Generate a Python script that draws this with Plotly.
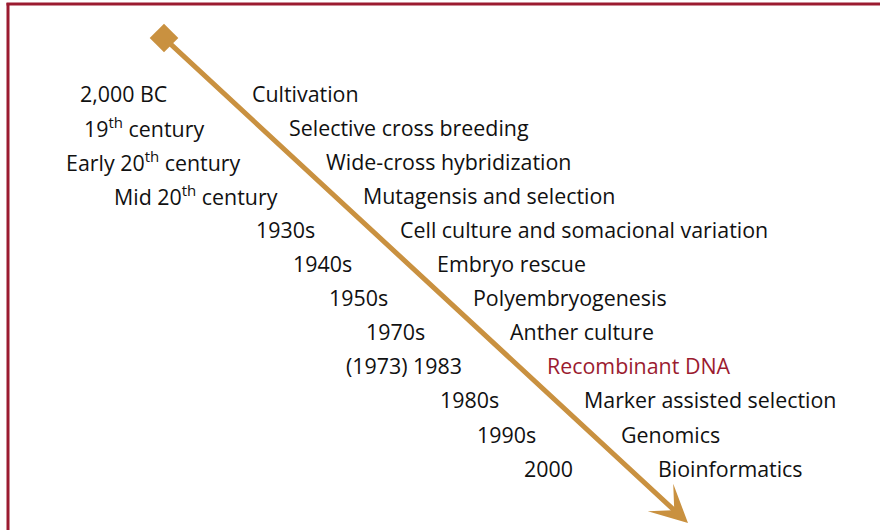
import plotly.graph_objects as go

periods = ["2,000 BC", "19<sup>th</sup> century", "Early 20<sup>th</sup> century",
           "Mid 20<sup>th</sup> century", "1930s", "1940s", "1950s", "1970s",
           "(1973) 1983", "1980s", "1990s", "2000"]
methods = ["Cultivation", "Selective cross breeding", "Wide-cross hybridization",
           "Mutagensis and selection", "Cell culture and somacional variation",
           "Embryo rescue", "Polyembryogenesis", "Anther culture",
           "Recombinant DNA", "Marker assisted selection", "Genomics",
           "Bioinformatics"]
highlight = ["Recombinant DNA"]

GOLD = "#c99140"
RED = "#9b1b30"
FONT = "Open Sans"

# timeline arrow, drawn in pixel-like axis units
start = (164, 38)
end = (688, 523)
row0, step = 93, 34.1

fig = go.Figure()
fig.add_trace(go.Scatter(
    x=[start[0]], y=[start[1]], mode="markers",
    marker=dict(symbol="diamond", size=22, color=GOLD, line=dict(width=0)),
    hoverinfo="skip", showlegend=False,
))
fig.add_annotation(x=end[0], y=end[1], ax=start[0], ay=start[1],
                   xref="x", yref="y", axref="x", ayref="y", text="",
                   showarrow=True, arrowhead=3, arrowsize=1.25, arrowwidth=5,
                   arrowcolor=GOLD, standoff=0)

slope = (end[0] - start[0]) / (end[1] - start[1])
for i, (p, m) in enumerate(zip(periods, methods)):
    y = row0 + i * step
    xa = start[0] + (y - start[1]) * slope
    fig.add_annotation(x=xa - 54, y=y, text=p, showarrow=False,
                       xanchor="right", yanchor="middle",
                       font=dict(family=FONT, size=21.4, color="#111111"))
    fig.add_annotation(x=xa + 27, y=y, text=m, showarrow=False,
                       xanchor="left", yanchor="middle",
                       font=dict(family=FONT, size=21.4,
                                 color=RED if m in highlight else "#111111"))

# frame: only left and top edges are visible in the crop
fig.add_shape(type="line", x0=8, x1=8, y0=3, y1=540, line=dict(color=RED, width=3))
fig.add_shape(type="line", x0=6.5, x1=890, y0=4, y1=4, line=dict(color=RED, width=3))

fig.update_xaxes(range=[0, 880], visible=False, fixedrange=True)
fig.update_yaxes(range=[530, 0], visible=False, fixedrange=True)
fig.update_layout(width=880, height=530, margin=dict(l=0, r=0, t=0, b=0),
                  plot_bgcolor="white", paper_bgcolor="white")

fig.write_html("out.html", config={"displayModeBar": False},
               post_script="document.body.style.margin='0';")
